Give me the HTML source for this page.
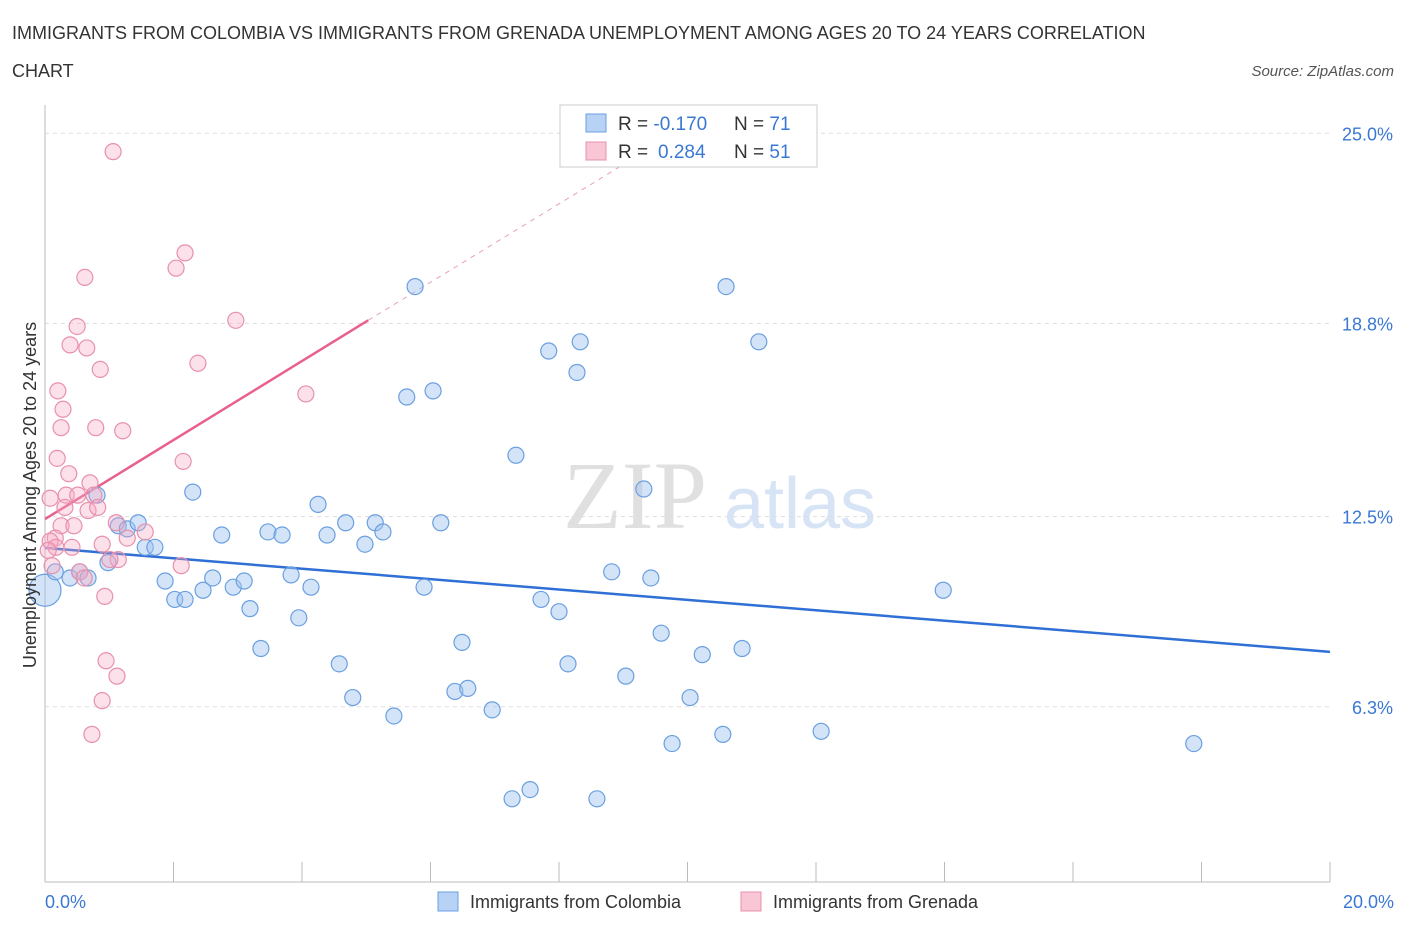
<!DOCTYPE html>
<html><head><meta charset="utf-8"><style>
body{margin:0;background:#fff;font-family:"Liberation Sans",sans-serif}
</style></head><body>
<svg width="1406" height="930" xmlns="http://www.w3.org/2000/svg" style="font-family:'Liberation Sans',sans-serif">
<text x="12" y="39" font-size="18" fill="#333">IMMIGRANTS FROM COLOMBIA VS IMMIGRANTS FROM GRENADA UNEMPLOYMENT AMONG AGES 20 TO 24 YEARS CORRELATION</text>
<text x="12" y="77" font-size="18" fill="#333">CHART</text>
<text x="1394" y="76" font-size="15" fill="#555" font-style="italic" text-anchor="end">Source: ZipAtlas.com</text>
<g>
<text x="635" y="528" font-size="96" fill="#e0e0e0" font-family="'Liberation Serif',serif" text-anchor="middle">ZIP</text>
<text x="800" y="528" font-size="72" fill="#d6e4f5" text-anchor="middle">atlas</text>
</g>
<g id="grid"></g><g id="axes"></g><g id="trend"></g><g id="pts"></g>
<text x="36" y="495" font-size="18" fill="#333" transform="rotate(-90 36 495)" text-anchor="middle">Unemployment Among Ages 20 to 24 years</text>
<text x="45" y="908" font-size="18" fill="#3a78d4">0.0%</text>
<text x="1394" y="908" font-size="18" fill="#3a78d4" text-anchor="end">20.0%</text>
<g>
<rect x="560" y="105" width="257" height="62" fill="#fff" stroke="#ccc"/>
<rect x="586" y="114" width="20" height="18" fill="#b8d2f5" stroke="#6a9fe0"/>
<rect x="586" y="142" width="20" height="18" fill="#f9c6d6" stroke="#e890ac"/>
<text x="618" y="130" font-size="19" fill="#333">R = <tspan fill="#3a78d4">-0.170</tspan></text>
<text x="734" y="130" font-size="19" fill="#333">N = <tspan fill="#3a78d4">71</tspan></text>
<text x="618" y="158" font-size="19" fill="#333">R = <tspan fill="#3a78d4" x="658">0.284</tspan></text>
<text x="734" y="158" font-size="19" fill="#333">N = <tspan fill="#3a78d4">51</tspan></text>
</g>
<g>
<rect x="438" y="892" width="20" height="19" fill="#b8d2f5" stroke="#6a9fe0"/>
<text x="470" y="908" font-size="18" fill="#333">Immigrants from Colombia</text>
<rect x="741" y="892" width="20" height="19" fill="#f9c6d6" stroke="#e890ac"/>
<text x="773" y="908" font-size="18" fill="#333">Immigrants from Grenada</text>
</g>
</svg>
<script>
const yTicks=[25.0,18.8,12.5,6.3];
const yTickLabels=["25.0%","18.8%","12.5%","6.3%"];
const xTicks=[0,2,4,6,8,10,12,14,16,18,20];
const colX=[0.0,0.16,0.39,0.54,0.67,0.81,0.98,1.14,1.28,1.45,1.56,1.71,1.87,2.02,2.18,2.30,2.46,2.61,2.75,2.93,3.10,3.19,3.36,3.47,3.69,3.83,3.95,4.14,4.25,4.39,4.58,4.68,4.79,4.98,5.14,5.26,5.43,5.63,5.76,5.90,6.04,6.16,6.38,6.49,6.58,6.96,7.27,7.33,7.55,7.72,7.84,8.00,8.14,8.28,8.33,8.59,8.82,9.04,9.32,9.43,9.59,9.76,10.04,10.23,10.55,10.60,10.85,11.11,12.08,13.98,17.88];
const colY=[10.1,10.7,10.5,10.7,10.5,13.2,11.0,12.2,12.1,12.3,11.5,11.5,10.4,9.8,9.8,13.3,10.1,10.5,11.9,10.2,10.4,9.5,8.2,12.0,11.9,10.6,9.2,10.2,12.9,11.9,7.7,12.3,6.6,11.6,12.3,12.0,6.0,16.4,20.0,10.2,16.6,12.3,6.8,8.4,6.9,6.2,3.3,14.5,3.6,9.8,17.9,9.4,7.7,17.2,18.2,3.3,10.7,7.3,13.4,10.5,8.7,5.1,6.6,8.0,5.4,20.0,8.2,18.2,5.5,10.1,5.1];
const grnX=[1.06,2.18,2.04,0.62,2.97,0.50,0.39,0.65,2.38,0.86,4.06,0.20,0.28,0.25,0.79,1.21,0.19,2.15,0.37,0.70,0.08,0.33,0.51,0.76,0.31,0.67,0.82,1.11,0.25,0.45,1.56,1.28,0.16,0.08,0.17,0.42,0.89,0.05,1.14,0.11,2.12,0.54,1.01,0.61,0.93,0.95,1.12,0.89,0.73];
const grnY=[24.4,21.1,20.6,20.3,18.9,18.7,18.1,18.0,17.5,17.3,16.5,16.6,16.0,15.4,15.4,15.3,14.4,14.3,13.9,13.6,13.1,13.2,13.2,13.2,12.8,12.7,12.8,12.3,12.2,12.2,12.0,11.8,11.8,11.7,11.5,11.5,11.6,11.4,11.1,10.9,10.9,10.7,11.1,10.5,9.9,7.8,7.3,6.5,5.4];
const colTrend=[[0,11.48],[20,8.09]];
const grnTrend=[[0,12.42],[5.03,18.9]];
const grnDash=[[5.03,18.9],[9.8,25.0]];
const NS='http://www.w3.org/2000/svg';
const X=v=>45+v*64.25, Y=v=>900-v*30.67;
function mk(parent,tag,attrs){const e=document.createElementNS(NS,tag);for(const k in attrs)e.setAttribute(k,attrs[k]);document.getElementById(parent).appendChild(e);return e;}
yTicks.forEach((t,i)=>{
 let l=mk('grid','line',{x1:45,x2:1330,y1:Y(t),y2:Y(t),stroke:'#ddd','stroke-dasharray':'4,4'});
 
 
 let tx=mk('grid','text',{x:1393,y:Y(t)+7,'font-size':18,fill:'#3a78d4','text-anchor':'end'});
 tx.textContent=yTickLabels[i];
 
 
});
let ax=mk('axes','line',{x1:45,x2:45,y1:105,y2:882,stroke:'#bbb'});


let bx=mk('axes','line',{x1:45,x2:1330,y1:882,y2:882,stroke:'#bbb'});


xTicks.forEach(t=>{
 let l=mk('axes','line',{x1:X(t),x2:X(t),y1:862,y2:882,stroke:'#bbb'});
 
 
});
function tl(d,c,dash,name){let l=mk('trend','line',{x1:X(d[0][0]),y1:Y(d[0][1]),x2:X(d[1][0]),y2:Y(d[1][1]),stroke:c,'stroke-width':dash?1:2.5});if(dash)l.setAttribute('stroke-dasharray','5,5');
 
 }
tl(colTrend,'#2f6fd6',false,'colombia-trend-line');
tl(grnTrend,'#e8608e',false,'grenada-trend-line');
tl(grnDash,'#e8a0b8',true,'grenada-trend-extension');
colX.forEach((x,i)=>{
 let c=mk('pts','circle',{cx:X(x),cy:Y(colY[i]),r:i===0?16:8,fill:'rgba(160,195,240,0.45)',stroke:'#6a9fe0','stroke-width':1.2});
 
 
});
grnX.forEach((x,i)=>{
 let c=mk('pts','circle',{cx:X(x),cy:Y(grnY[i]),r:8,fill:'rgba(245,170,195,0.35)',stroke:'#e890ac','stroke-width':1.2});
 
 
});
</script>
</body></html>
